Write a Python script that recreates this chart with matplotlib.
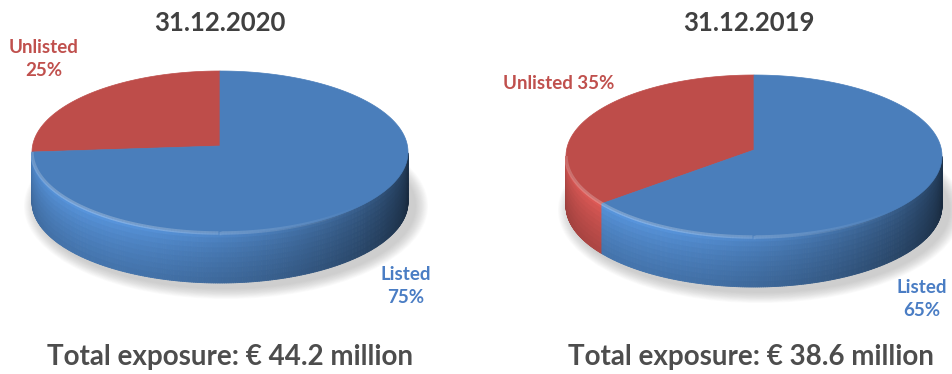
import numpy as np
import matplotlib.pyplot as plt
from matplotlib.patches import Polygon, Ellipse
from matplotlib.collections import PolyCollection
from matplotlib.colors import to_rgb

plt.rcParams['font.family'] = ['Lato', 'DejaVu Sans']

panel_titles = ['31.12.2020', '31.12.2019']
categories = ['Unlisted', 'Listed']
unlisted_pct = [25, 35]
listed_pct = [75, 65]
total_exposure = [44.2, 38.6]

top_colors = {'Unlisted': '#be4d4a', 'Listed': '#4a7ebb'}
label_colors = {'Unlisted': '#c0504d', 'Listed': '#4a7dc4'}

# pie geometry in pixel space (y grows downward)
centers = [(220, 152), (754, 156)]
rx, ry, depth = 188, 81, 50

fig = plt.figure(figsize=(9.53, 3.74), dpi=100)
ax = fig.add_axes([0, 0, 1, 1])
ax.set_xlim(0, 953)
ax.set_ylim(374, 0)
ax.axis('off')


def rim(cx, cy, t):
    return cx + rx * np.cos(t), cy - ry * np.sin(t)


def draw_pie(cx, cy, values, names):
    # soft shadow under the disc
    for i in range(14):
        k = i / 13
        ax.add_patch(Ellipse((cx + 6, cy + depth + 4), 2 * (rx + 14 - 12 * k),
                             2 * (ry + 12 - 10 * k), color='#9a9a9a',
                             alpha=0.04, lw=0, zorder=1))

    fracs = np.asarray(values, float) / np.sum(values)
    edges = np.deg2rad(90 + 360 * np.concatenate([[0], np.cumsum(fracs)]))

    # side band (only the front half is visible)
    polys, cols = [], []
    nv = 10
    for name, t0, t1 in zip(names, edges[:-1], edges[1:]):
        base = np.array(to_rgb(top_colors[name]))
        ts = np.linspace(t0, t1, 400)
        ts = ts[(np.mod(ts, 2 * np.pi) >= np.pi)]
        for a, b in zip(ts[:-1], ts[1:]):
            xa, ya = rim(cx, cy, a)
            xb, yb = rim(cx, cy, b)
            m = 0.5 * (a + b)
            f = 0.64 + 0.40 * np.cos(m - np.deg2rad(228))
            for j in range(nv):
                v0, v1 = j / nv, (j + 1) / nv
                g = 1.18 - 0.3 * (0.5 * (v0 + v1)) ** 0.6
                polys.append([(xa, ya + depth * v0), (xb, yb + depth * v0),
                              (xb, yb + depth * v1), (xa, ya + depth * v1)])
                cols.append(np.clip(base * f * g, 0, 1))
    ax.add_collection(PolyCollection(polys, facecolors=cols, edgecolors=cols,
                                     linewidths=0.6, zorder=2))

    # top surface
    for name, t0, t1 in zip(names, edges[:-1], edges[1:]):
        ts = np.linspace(t0, t1, 300)
        xs, ys = rim(cx, cy, ts)
        pts = np.column_stack([np.r_[cx, xs], np.r_[cy - 6, ys]])
        ax.add_patch(Polygon(pts, closed=True, facecolor=top_colors[name],
                             edgecolor=top_colors[name], lw=0.5, zorder=3))

    # light bevel along the front rim
    ts = np.linspace(np.pi, 2 * np.pi, 200)
    xs, ys = rim(cx, cy, ts)
    for a, b, xa, ya, xb, yb in zip(ts[:-1], ts[1:], xs[:-1], ys[:-1], xs[1:], ys[1:]):
        w = max(0.0, np.cos(0.5 * (a + b) - np.deg2rad(228)))
        ax.plot([xa, xb], [ya, yb], color='white', alpha=0.25 * w, lw=2.5,
                solid_capstyle='butt', zorder=4)


for i, (cx, cy) in enumerate(centers):
    draw_pie(cx, cy, [unlisted_pct[i], listed_pct[i]], categories)

# titles and totals
for (cx, _), title, total in zip(centers, panel_titles, total_exposure):
    ax.text(cx + (0 if cx < 400 else -5), 23, title, ha='center', va='center',
            fontsize=18.5, fontweight='bold', color='#404040')
    ax.text(cx + 10 if cx < 400 else cx - 3, 357, f'Total exposure: € {total} million',
            ha='center', va='center', fontsize=20, fontweight='bold', color='#4d4d4d')

# slice labels
ax.text(44, 59, f'Unlisted\n{unlisted_pct[0]}%', ha='center', va='center',
        fontsize=13.5, fontweight='bold', color=label_colors['Unlisted'], linespacing=1.4)
ax.text(406, 286, f'Listed\n{listed_pct[0]}%', ha='center', va='center',
        fontsize=13.5, fontweight='bold', color=label_colors['Listed'], linespacing=1.4)
ax.text(559, 83, f'Unlisted {unlisted_pct[1]}%', ha='center', va='center',
        fontsize=13.5, fontweight='bold', color=label_colors['Unlisted'])
ax.text(922, 299, f'Listed\n{listed_pct[1]}%', ha='center', va='center',
        fontsize=13.5, fontweight='bold', color=label_colors['Listed'], linespacing=1.4)

fig.savefig('out.png', dpi=100, facecolor='white')
